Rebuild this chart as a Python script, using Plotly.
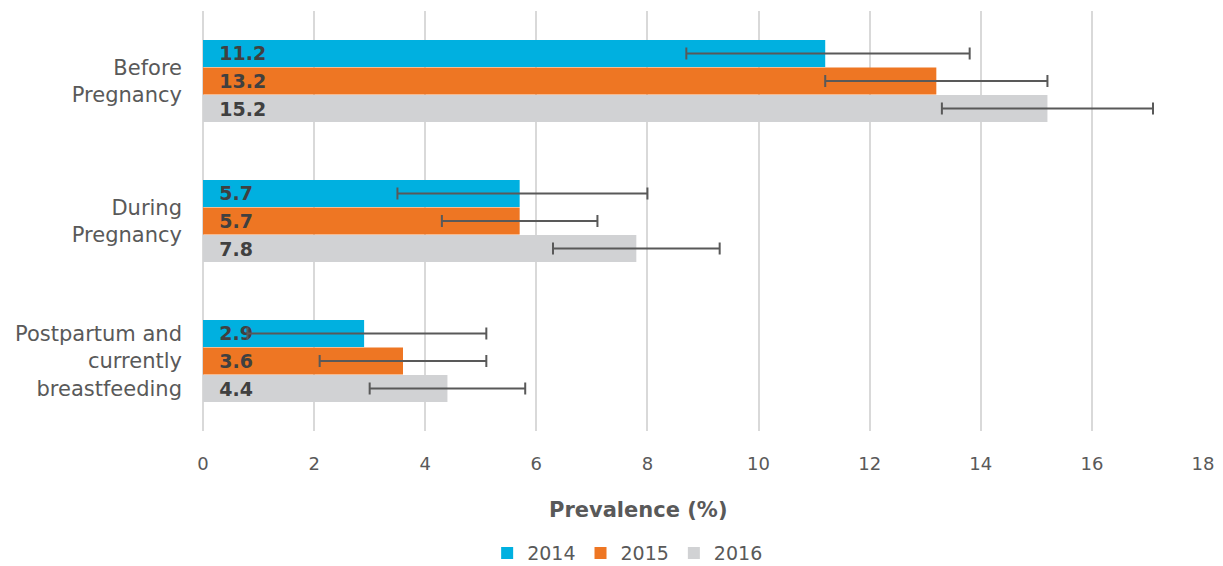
import plotly.graph_objects as go

categories = ["Before<br>Pregnancy", "During<br>Pregnancy", "Postpartum and<br>currently<br>breastfeeding"]
years = ["2014", "2015", "2016"]
values = {
    "2014": [11.2, 5.7, 2.9],
    "2015": [13.2, 5.7, 3.6],
    "2016": [15.2, 7.8, 4.4],
}
lower = {
    "2014": [8.7, 3.5, 0.8],
    "2015": [11.2, 4.3, 2.1],
    "2016": [13.3, 6.3, 3.0],
}
upper = {
    "2014": [13.8, 8.0, 5.1],
    "2015": [15.2, 7.1, 5.1],
    "2016": [17.1, 9.3, 5.8],
}
colors = {"2014": "#00B0E0", "2015": "#EE7623", "2016": "#D1D2D4"}
tick_vals = list(range(0, 20, 2))

FONT = "DejaVu Sans"
fig = go.Figure()
for yr in years:
    v = values[yr]
    fig.add_trace(go.Bar(
        name=yr, y=categories, x=v, orientation="h",
        marker=dict(color=colors[yr], line=dict(width=0)),
        text=["\u00a0\u00a0" + f"{t:.1f}" for t in v],
        textposition="inside", insidetextanchor="start", constraintext="none",
        textfont=dict(family=FONT, size=19, color="#404040", weight="bold"),
        error_x=dict(type="data", symmetric=False,
                     array=[u - a for u, a in zip(upper[yr], v)],
                     arrayminus=[a - l for a, l in zip(v, lower[yr])],
                     color="#595959", thickness=2, width=6),
        hoverinfo="skip",
    ))

fig.update_layout(
    width=1215, height=558,
    margin=dict(l=195, r=20, t=3, b=135, autoexpand=False),
    barmode="group", bargap=0.41, bargroupgap=0.02,
    plot_bgcolor="white", paper_bgcolor="white",
    font=dict(family=FONT, color="#595959", size=18),
    showlegend=True,
    legend=dict(orientation="h", xref="container", x=0.51, xanchor="center",
                yref="container", y=0.023, yanchor="middle",
                font=dict(size=19, color="#595959"), traceorder="normal",
                itemwidth=30),
    xaxis=dict(range=[0, 18], tickvals=tick_vals, showgrid=True,
               gridcolor="#D9D9D9", gridwidth=2, zeroline=True,
               zerolinecolor="#D9D9D9", zerolinewidth=2, automargin=False,
               showline=False, ticks="", ticklabelstandoff=20,
               tickfont=dict(size=18, color="#595959")),
    yaxis=dict(autorange="reversed", showgrid=False, showline=False, ticks="",
               automargin=False,
               ticklabelstandoff=20, tickfont=dict(size=21, color="#595959")),
    annotations=[dict(text="<b>Prevalence (%)</b>", xref="paper", yref="paper",
                      x=0.435, y=-0.188, xanchor="center", yanchor="middle",
                      showarrow=False, font=dict(size=21, color="#595959"))],
)
fig.write_html("out.html")
